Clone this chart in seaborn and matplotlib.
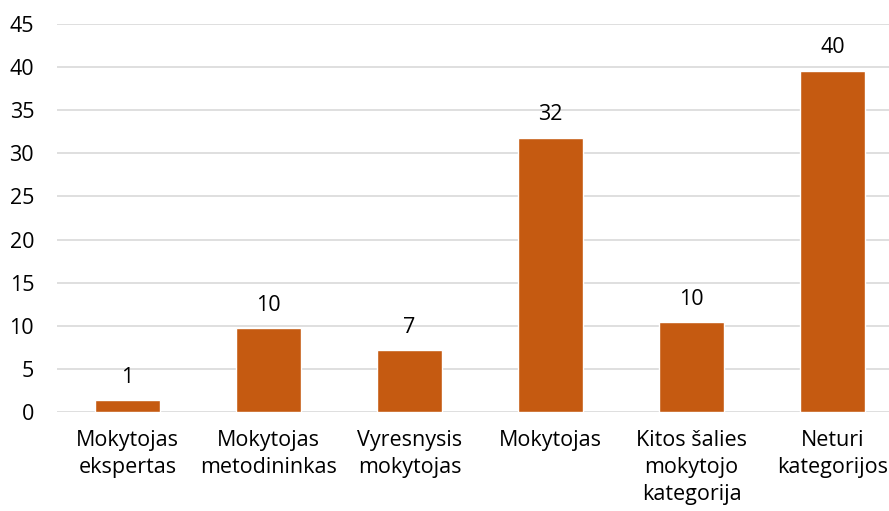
import matplotlib
matplotlib.use("Agg")
import matplotlib.pyplot as plt
import seaborn as sns
import pandas as pd

categories = ["Mokytojas\nekspertas", "Mokytojas\nmetodininkas", "Vyresnysis\nmokytojas",
              "Mokytojas", "Kitos šalies\nmokytojo\nkategorija", "Neturi\nkategorijos"]
values = [1.36, 9.74, 7.19, 31.78, 10.4, 39.55]
labels = ["1", "10", "7", "32", "10", "40"]
yticks = [0, 5, 10, 15, 20, 25, 30, 35, 40, 45]

sns.set_theme(style="white")
plt.rcParams["font.family"] = ["Open Sans", "DejaVu Sans"]

df = pd.DataFrame({"cat": categories, "val": values})

fig = plt.figure(figsize=(8.89, 5.11), dpi=100)
W, H = 889, 511
left, right, bottom, top = 57, 903, 412, 24
ax = fig.add_axes([left / W, 1 - bottom / H, (right - left) / W, (bottom - top) / H])

sns.barplot(data=df, x="cat", y="val", color="#C55A11", saturation=1, width=0.46, ax=ax)
ax.set_ylim(0, 45)
ax.set_xlim(-0.5, 5.5)
ax.set_yticks(yticks)
ax.set_yticklabels([str(t) for t in yticks])
ax.yaxis.grid(True, color="#D9D9D9", linewidth=1.2)
ax.set_axisbelow(True)
for s in ax.spines.values():
    s.set_visible(False)
ax.tick_params(axis="y", length=0, pad=16.5, labelsize=15.5, colors="#000000")
ax.tick_params(axis="x", length=0, pad=13, labelsize=15.5, colors="#000000")
for t in ax.get_xticklabels():
    t.set_linespacing(1.38)
ax.set_xlabel("")
ax.set_ylabel("")

for i, (v, lab) in enumerate(zip(values, labels)):
    ax.annotate(lab, (i, v), xytext=(0, 9), textcoords="offset points",
                ha="center", va="bottom", fontsize=15.5, color="#000000")

fig.savefig("out.png", dpi=100)
